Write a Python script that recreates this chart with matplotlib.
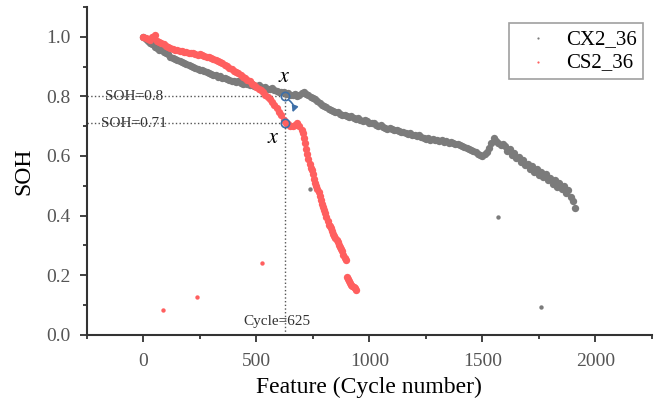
import matplotlib.pyplot as plt
from matplotlib.ticker import FormatStrFormatter, MultipleLocator

plt.rcParams["font.family"] = ["Liberation Serif", "DejaVu Serif"]
plt.rcParams["mathtext.fontset"] = "stix"

# ==========================================================
# DATA
# ==========================================================

# CX2_36 battery: cycle number / state of health
cx2_cycle = [
    0, 10, 20, 30, 40, 50, 60, 70, 80, 90,
    100, 110, 120, 130, 140, 150, 160, 170, 180, 190,
    200, 210, 220, 230, 240, 250, 260, 270, 280, 290,
    300, 310, 320, 330, 340, 350, 360, 370, 380, 390,
    400, 410, 420, 430, 440, 450, 460, 470, 480, 490,
    500, 510, 520, 530, 540, 550, 560, 570, 580, 590,
    600, 610, 620, 630, 640, 650, 660, 670, 680, 690,
    700, 710, 720, 730, 740, 750, 760, 770, 780, 790,
    800, 810, 820, 830, 840, 850, 860, 870, 880, 890,
    900, 910, 920, 930, 940, 950, 960, 970, 980, 990,
    1000, 1010, 1020, 1030, 1040, 1050, 1060, 1070, 1080, 1090,
    1100, 1110, 1120, 1130, 1140, 1150, 1160, 1170, 1180, 1190,
    1200, 1210, 1220, 1230, 1240, 1250, 1260, 1270, 1280, 1290,
    1300, 1310, 1320, 1330, 1340, 1350, 1360, 1370, 1380, 1390,
    1400, 1410, 1420, 1430, 1440, 1450, 1460, 1470, 1480, 1490,
    1500, 1510, 1520, 1530, 1540, 1550, 1560, 1570, 1580, 1590,
    1600, 1610, 1620, 1630, 1640, 1650, 1660, 1670, 1680, 1690,
    1700, 1710, 1720, 1730, 1740, 1750, 1760, 1770, 1780, 1790,
    1800, 1810, 1820, 1830, 1840, 1850, 1860, 1870, 1880, 1890,
    1900, 1910,
]
cx2_soh = [
    1.000, 0.992, 0.985, 0.978, 0.974, 0.966, 0.963, 0.957, 0.955, 0.950,
    0.946, 0.941, 0.932, 0.928, 0.926, 0.921, 0.918, 0.914, 0.912, 0.907,
    0.905, 0.903, 0.898, 0.895, 0.893, 0.888, 0.890, 0.884, 0.880, 0.879,
    0.876, 0.873, 0.872, 0.866, 0.868, 0.862, 0.860, 0.857, 0.855, 0.852,
    0.851, 0.848, 0.850, 0.846, 0.843, 0.846, 0.840, 0.838, 0.841, 0.836,
    0.834, 0.838, 0.832, 0.829, 0.833, 0.826, 0.824, 0.828, 0.821, 0.818,
    0.816, 0.813, 0.815, 0.809, 0.812, 0.806, 0.804, 0.808, 0.801, 0.805,
    0.811, 0.815, 0.808, 0.803, 0.799, 0.794, 0.790, 0.786, 0.779, 0.772,
    0.768, 0.765, 0.757, 0.754, 0.750, 0.746, 0.748, 0.742, 0.739, 0.736,
    0.734, 0.730, 0.733, 0.727, 0.725, 0.728, 0.722, 0.719, 0.721, 0.716,
    0.712, 0.709, 0.711, 0.705, 0.702, 0.704, 0.698, 0.695, 0.692, 0.694,
    0.689, 0.686, 0.688, 0.683, 0.680, 0.682, 0.677, 0.675, 0.678, 0.672,
    0.670, 0.667, 0.669, 0.664, 0.662, 0.658, 0.660, 0.655, 0.657, 0.652,
    0.654, 0.650, 0.652, 0.647, 0.649, 0.645, 0.648, 0.642, 0.639, 0.641,
    0.636, 0.633, 0.630, 0.627, 0.625, 0.621, 0.617, 0.612, 0.608, 0.604,
    0.600, 0.606, 0.613, 0.628, 0.645, 0.662, 0.650, 0.643, 0.636, 0.640,
    0.632, 0.618, 0.622, 0.602, 0.610, 0.592, 0.598, 0.580, 0.588, 0.570,
    0.574, 0.555, 0.566, 0.546, 0.556, 0.536, 0.548, 0.528, 0.538, 0.518,
    0.526, 0.506, 0.518, 0.496, 0.508, 0.488, 0.500, 0.476, 0.486, 0.462,
    0.450, 0.425,
]
cx2_outlier_cycle = [735, 1571, 1761]
cx2_outlier_soh = [0.490, 0.397, 0.094]

# CS2_36 battery: cycle number / state of health
cs2_cycle = [
    0, 10, 20, 30, 40, 50, 60, 70, 80, 90,
    100, 110, 120, 130, 140, 150, 160, 170, 180, 190,
    200, 210, 220, 230, 240, 250, 260, 270, 280, 290,
    300, 310, 320, 330, 340, 350, 360, 370, 380, 390,
    400, 410, 420, 430, 440, 450, 460, 470, 480, 490,
    500, 510, 520, 530, 540, 550, 560, 570, 580, 590,
    600, 610, 620, 630, 640, 650, 660, 670, 680, 690,
    700, 705, 710, 715, 720, 725, 730, 735, 740, 745,
    750, 755, 760, 765, 770, 775, 780, 785, 790, 795,
    800, 805, 810, 815, 820, 825, 830, 835, 840, 845,
    850, 855, 860, 865, 870, 875, 880, 885, 890, 895,
    900, 905, 910, 915, 920, 925, 930, 935, 940,
]
cs2_soh = [
    1.000, 0.997, 0.993, 0.990, 0.998, 1.005, 0.986, 0.982, 0.978, 0.975,
    0.970, 0.966, 0.962, 0.960, 0.957, 0.955, 0.953, 0.951, 0.949, 0.948,
    0.946, 0.944, 0.945, 0.942, 0.940, 0.941, 0.938, 0.936, 0.933, 0.932,
    0.928, 0.925, 0.922, 0.918, 0.915, 0.911, 0.906, 0.902, 0.896, 0.891,
    0.886, 0.881, 0.877, 0.872, 0.866, 0.861, 0.855, 0.850, 0.843, 0.838,
    0.832, 0.826, 0.820, 0.813, 0.806, 0.799, 0.790, 0.781, 0.771, 0.760,
    0.748, 0.737, 0.722, 0.712, 0.706, 0.701, 0.699, 0.703, 0.710, 0.700,
    0.688, 0.676, 0.660, 0.642, 0.625, 0.608, 0.590, 0.574, 0.560, 0.552,
    0.540, 0.524, 0.510, 0.500, 0.490, 0.478, 0.465, 0.452, 0.440, 0.430,
    0.420, 0.408, 0.395, 0.382, 0.370, 0.366, 0.360, 0.350, 0.340, 0.332,
    0.325, 0.318, 0.310, 0.302, 0.295, 0.288, 0.280, 0.268, 0.258, 0.250,
    0.195, 0.188, 0.180, 0.174, 0.168, 0.163, 0.160, 0.156, 0.152,
]
cs2_outlier_cycle = [88, 239, 527]
cs2_outlier_soh = [0.084, 0.128, 0.242]

# knee annotation
knee_cycle = 625
knee_soh_cx2 = 0.80
knee_soh_cs2 = 0.71

GRAY = "#7b7b7b"
RED = "#ff5f5f"
BLUE = "#3d6fa8"
GUIDE = "#555555"

# ==========================================================
# FIGURE
# ==========================================================

fig = plt.figure(figsize=(6.68, 4.05), dpi=100)
ax = fig.add_axes([0.130, 0.173, 0.846, 0.810])

ax.scatter(cx2_cycle, cx2_soh, s=28, color=GRAY, linewidths=0, label="CX2_36", zorder=2)
ax.scatter(cx2_outlier_cycle, cx2_outlier_soh, s=10, color=GRAY, linewidths=0, zorder=2)
ax.scatter(cs2_cycle, cs2_soh, s=28, color=RED, linewidths=0, label="CS2_36", zorder=3)
ax.scatter(cs2_outlier_cycle, cs2_outlier_soh, s=10, color=RED, linewidths=0, zorder=3)

# dotted guide lines
ax.plot([-250, knee_cycle], [knee_soh_cx2, knee_soh_cx2], ls=":", lw=1, color=GUIDE, zorder=1)
ax.plot([-250, knee_cycle], [knee_soh_cs2, knee_soh_cs2], ls=":", lw=1, color=GUIDE, zorder=1)
ax.plot([knee_cycle, knee_cycle], [0, knee_soh_cx2], ls=":", lw=1, color=GUIDE, zorder=1)

ax.text(-40, knee_soh_cx2, "SOH=0.8", ha="center", va="center", fontsize=11, color="#333333")
ax.text(-40, knee_soh_cs2, "SOH=0.71", ha="center", va="center", fontsize=11, color="#333333")
ax.text(593, 0.045, "Cycle=625", ha="center", va="center", fontsize=11, color="#333333")

# marked points + curved arrow
ax.plot([knee_cycle, knee_cycle], [knee_soh_cx2, knee_soh_cs2], "o", mfc="none",
        mec=BLUE, ms=6, mew=1.2, zorder=4)
ax.annotate("", xy=(655, 0.738), xytext=(634, 0.792),
            arrowprops=dict(arrowstyle="-|>", color=BLUE, lw=1.2,
                            connectionstyle="arc3,rad=-0.5", mutation_scale=9),
            zorder=4)
ax.text(625, 0.862, "$x$", ha="center", va="center", fontsize=16)
ax.text(575, 0.660, "$x$", ha="center", va="center", fontsize=16)

# axes styling
ax.set_xlim(-250, 2250)
ax.set_ylim(0, 1.1)
ax.xaxis.set_major_locator(MultipleLocator(500))
ax.xaxis.set_minor_locator(MultipleLocator(250))
ax.yaxis.set_major_locator(MultipleLocator(0.2))
ax.yaxis.set_minor_locator(MultipleLocator(0.1))
ax.yaxis.set_major_formatter(FormatStrFormatter("%.1f"))

for side in ["top", "right"]:
    ax.spines[side].set_visible(False)
for side in ["left", "bottom"]:
    ax.spines[side].set_linewidth(1.5)
    ax.spines[side].set_color("#333333")

ax.tick_params(which="major", direction="out", length=5, width=1.3,
               color="#333333", labelsize=14, labelcolor="#555555")
ax.tick_params(axis="x", which="major", pad=8)
ax.tick_params(axis="y", which="major", pad=7)
ax.tick_params(which="minor", direction="out", length=3, width=1.3, color="#333333")

ax.set_xlabel("Feature (Cycle number)", fontsize=17, labelpad=5)
ax.set_ylabel("SOH", fontsize=17)
ax.yaxis.set_label_coords(-0.092, 0.5)

leg = ax.legend(loc="upper right", bbox_to_anchor=(643 / 668, 382 / 405),
                bbox_transform=fig.transFigure, fontsize=15, frameon=True,
                fancybox=False, edgecolor="#888888", borderaxespad=0,
                markerscale=0.3, scatterpoints=1, handlelength=2.2,
                handletextpad=0.25, borderpad=0.3, labelspacing=0.2)
leg.get_frame().set_linewidth(1.2)

fig.savefig("out.png", dpi=100)
plt.close(fig)
